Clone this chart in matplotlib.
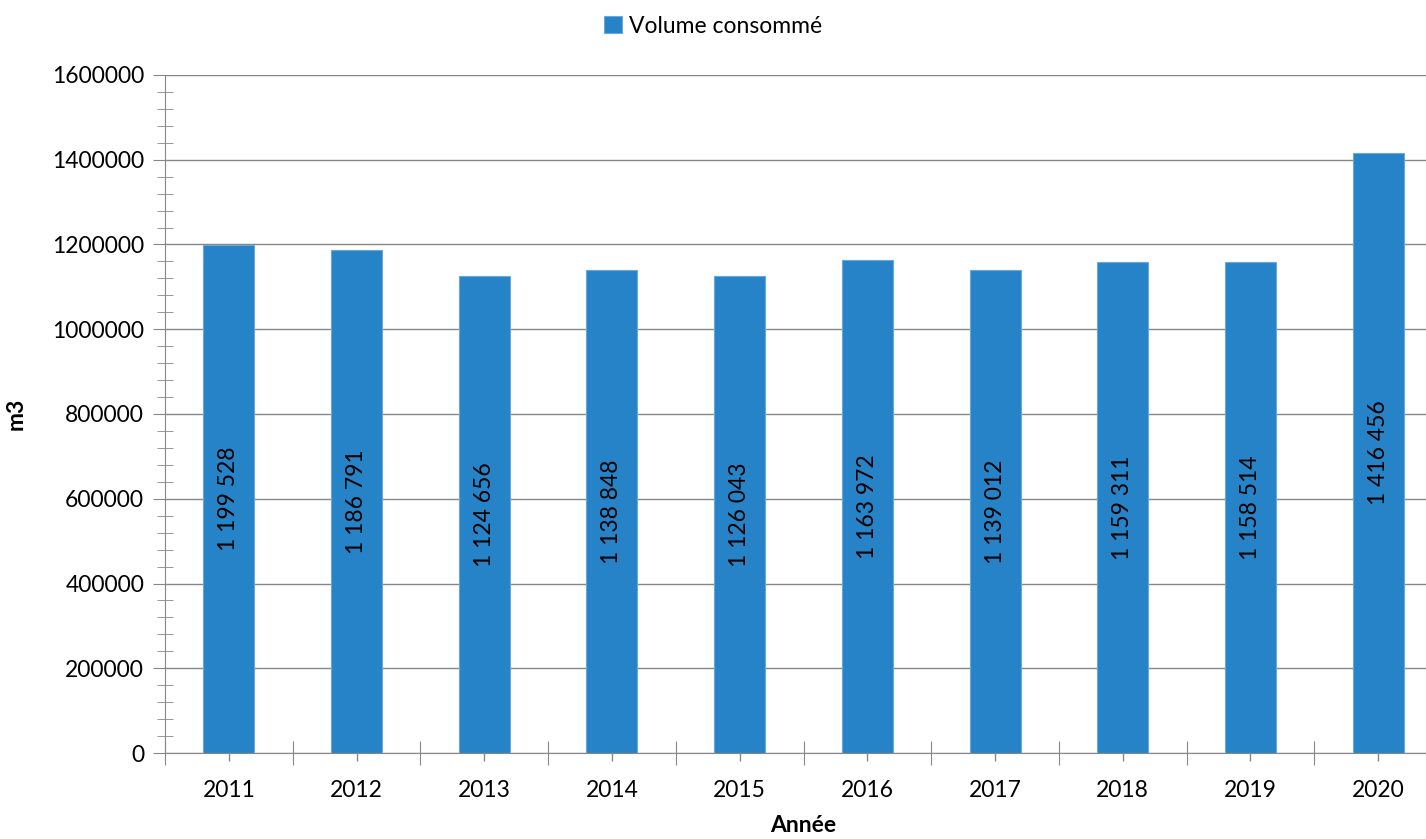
import numpy as np
import matplotlib.pyplot as plt
from matplotlib.ticker import MultipleLocator, FixedLocator

plt.rcParams['font.family'] = ['Lato', 'DejaVu Sans']

years = ['2011', '2012', '2013', '2014', '2015', '2016', '2017', '2018', '2019', '2020']
volume = [1199528, 1186791, 1124656, 1138848, 1126043, 1163972, 1139012, 1159311, 1158514, 1416456]

fig = plt.figure(figsize=(14.26, 8.39), dpi=100)
ax = fig.add_axes([165/1426, 86/839, 1277/1426, 678/839])

x = np.arange(len(years))
bars = ax.bar(x, volume, width=0.4, color='#2783c7', edgecolor='#6aa8dc', linewidth=0.8,
              label='Volume consommé', zorder=3)

for xi, v in zip(x, volume):
    lab = f'{v:,}'.replace(',', ' ')
    ax.text(xi, v / 2, lab, rotation=90, ha='center', va='center', fontsize=16.5, color='black', zorder=4)

ax.set_ylim(0, 1600000)
ax.set_xlim(-0.5, len(years) - 0.5)
ax.yaxis.set_major_locator(MultipleLocator(200000))
ax.yaxis.set_minor_locator(MultipleLocator(40000))
ax.xaxis.set_major_locator(FixedLocator(np.arange(len(years) + 1) - 0.5))
ax.set_xticks(x, years, minor=True)
ax.set_xticklabels([], minor=False)
ax.yaxis.set_major_formatter(plt.FuncFormatter(lambda v, p: f'{int(v)}'))

ax.grid(axis='y', which='major', color='#878787', linewidth=1, zorder=0)
for s in ['top', 'right']:
    ax.spines[s].set_visible(False)
for s in ['left', 'bottom']:
    ax.spines[s].set_color('#878787')

ax.tick_params(axis='y', which='major', direction='out', length=9, color='#878787', labelsize=16.5, pad=6)
ax.tick_params(axis='y', which='minor', direction='inout', length=12, color='#878787')
ax.tick_params(axis='x', which='major', direction='inout', length=17, color='#878787')
ax.tick_params(axis='x', which='minor', direction='inout', length=11, color='#878787', labelsize=16.5, pad=14)

# small centre ticks below the bars, as in the reference
for xi in x:
    ax.plot([xi, xi], [0, -16000], color='#878787', linewidth=1, clip_on=False, zorder=4)

ax.set_ylabel('m3', fontsize=16.5, fontweight='bold', labelpad=18)
ax.set_xlabel('Année', fontsize=16.5, fontweight='bold', labelpad=10)

fig.legend(handles=[bars], loc='upper center', bbox_to_anchor=(0.5, 1.006), frameon=False,
           fontsize=16.5, handlelength=0.8, handleheight=0.8, handletextpad=0.3)

fig.savefig('out.png', dpi=100)
